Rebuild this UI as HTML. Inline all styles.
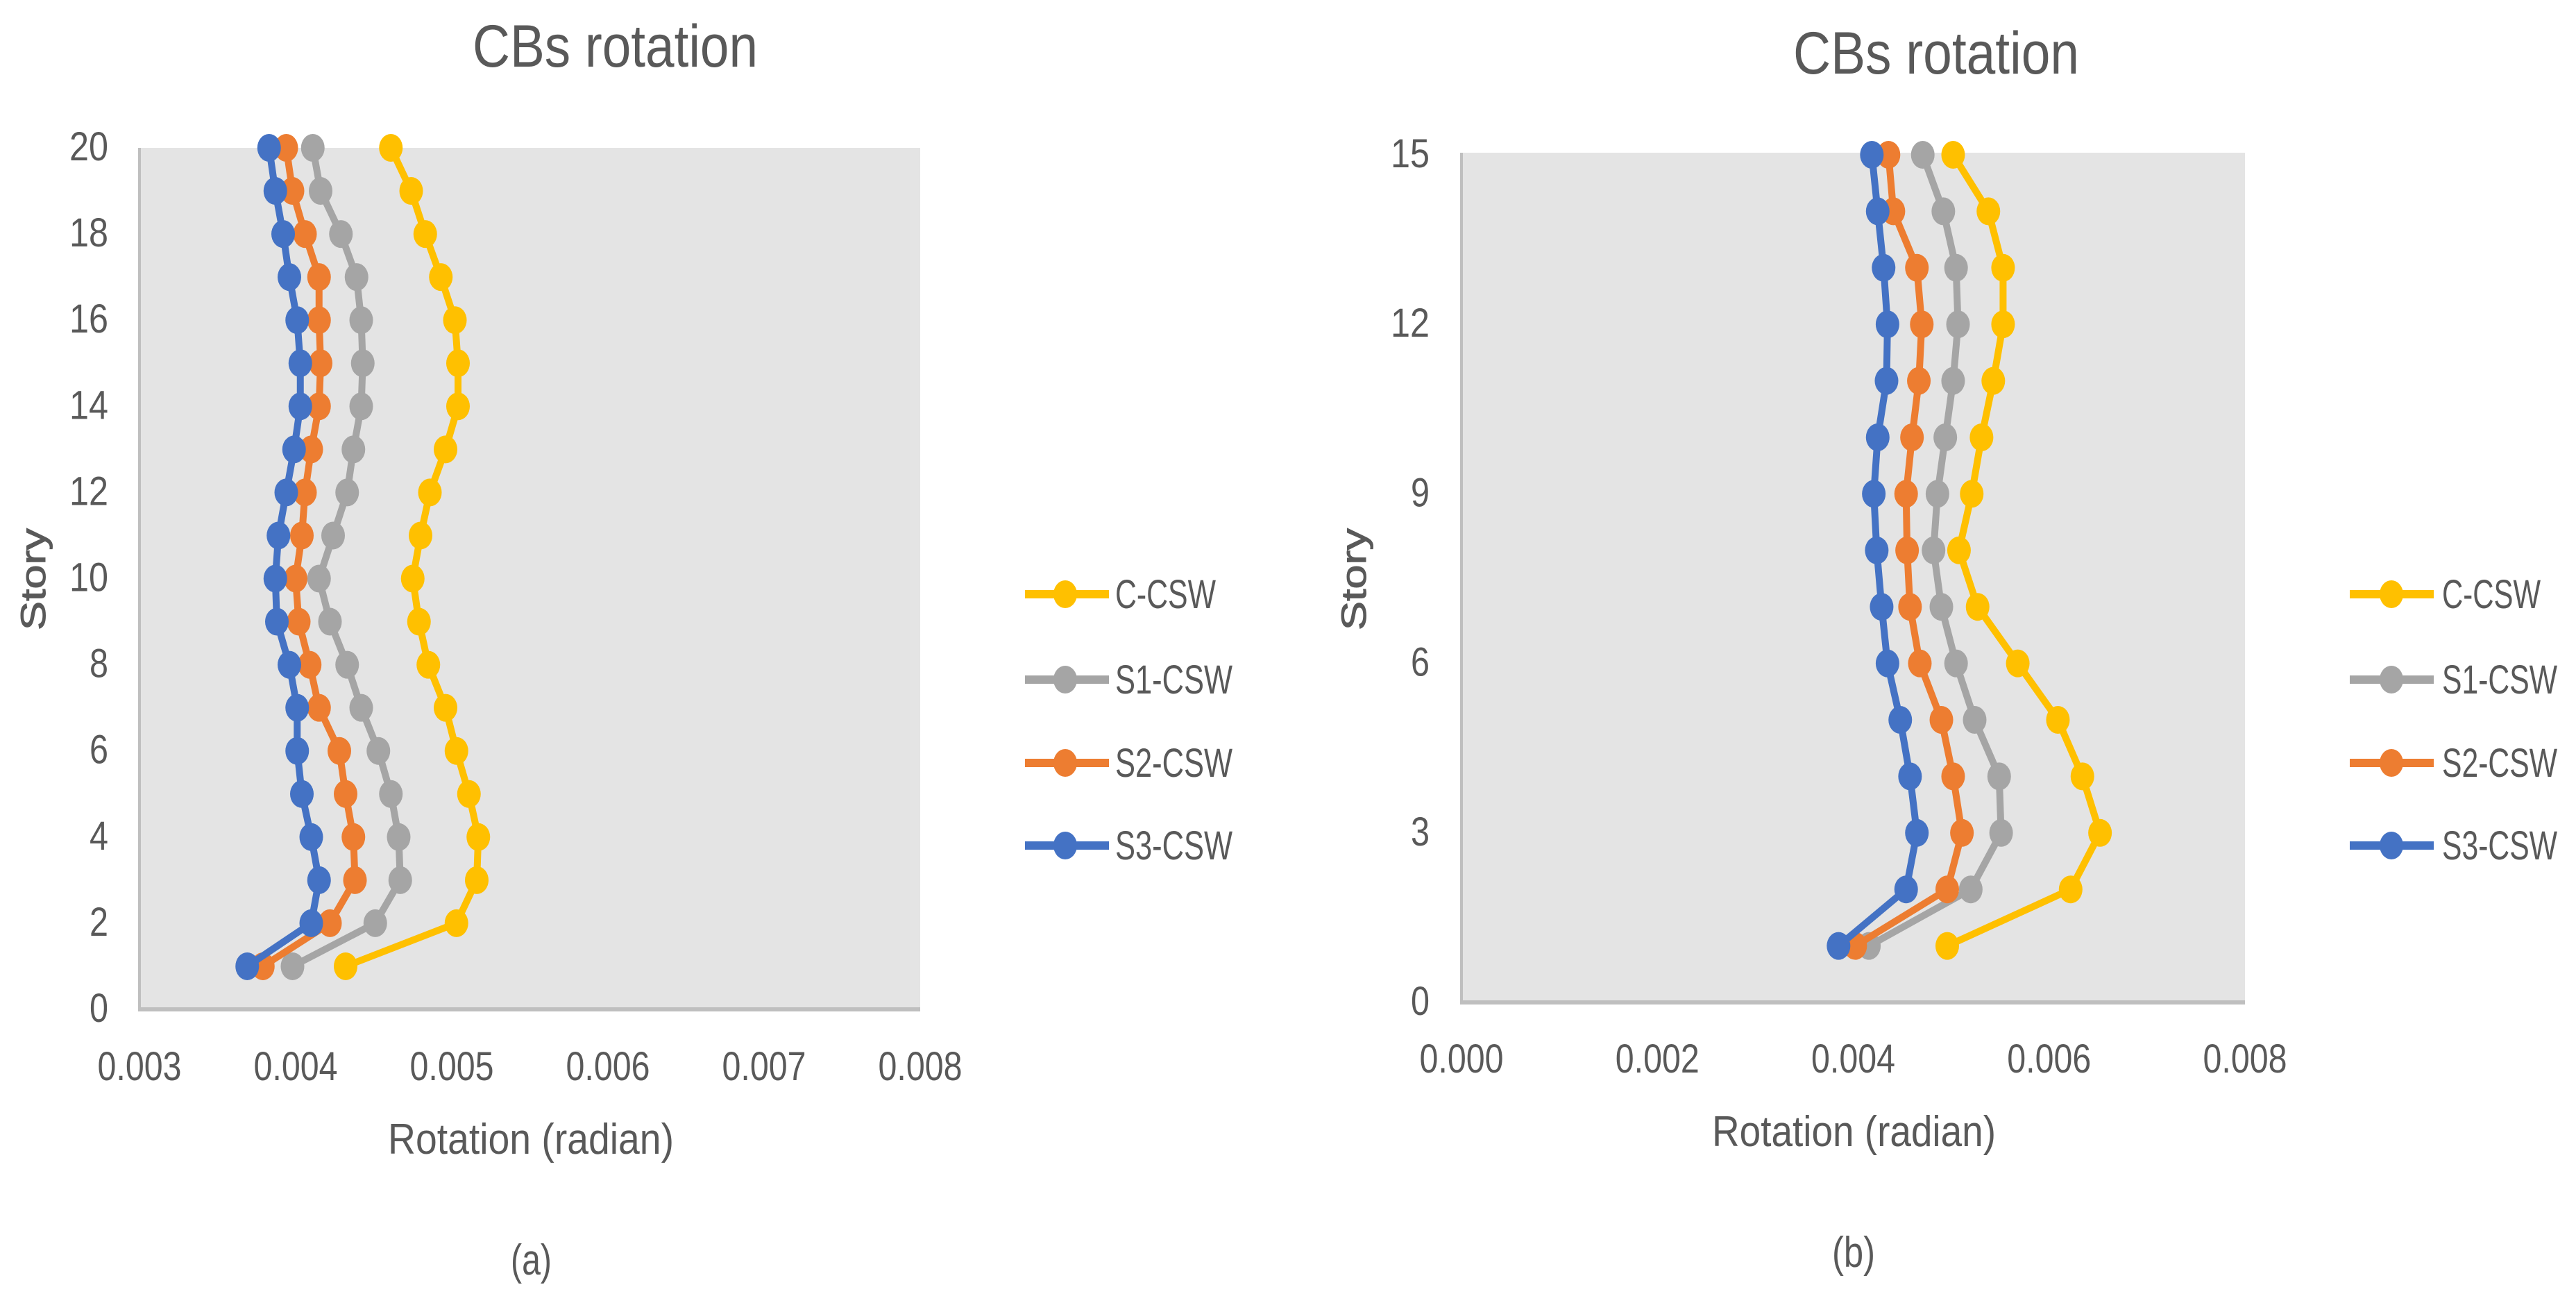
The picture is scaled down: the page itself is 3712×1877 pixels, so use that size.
<!DOCTYPE html>
<html lang="en">
<head>
<meta charset="utf-8">
<title>CBs rotation</title>
<style>
html,body{margin:0;padding:0;background:#fff;}
svg{display:block;}
text{font-family:"Liberation Sans",sans-serif;fill:#595959;}
</style>
</head>
<body>
<svg id="figure" xmlns="http://www.w3.org/2000/svg" width="3712" height="1877" viewBox="0 0 3712 1877">
  <rect width="3712" height="1877" fill="#fff"/>
  <g id="chart-a">
    <text x="681" y="96" font-size="86" textLength="411" lengthAdjust="spacingAndGlyphs">CBs rotation</text>
    <text x="559" y="1662" font-size="62" textLength="412" lengthAdjust="spacingAndGlyphs">Rotation (radian)</text>
    <text transform="translate(65,908) rotate(-90)" font-size="50" textLength="147" lengthAdjust="spacingAndGlyphs" stroke="#595959" stroke-width="1">Story</text>
    <text x="736" y="1836" font-size="62" textLength="59" lengthAdjust="spacingAndGlyphs">(a)</text>
  </g>
  <g id="chart-b">
    <text x="2584" y="106" font-size="86" textLength="412" lengthAdjust="spacingAndGlyphs">CBs rotation</text>
    <text x="2467" y="1651" font-size="62" textLength="409" lengthAdjust="spacingAndGlyphs">Rotation (radian)</text>
    <text transform="translate(1968,908) rotate(-90)" font-size="50" textLength="147" lengthAdjust="spacingAndGlyphs" stroke="#595959" stroke-width="1">Story</text>
    <text x="2640" y="1825" font-size="62" textLength="62" lengthAdjust="spacingAndGlyphs">(b)</text>
  </g>

  <g>
    <g>
      <line x1="1477" x2="1598" y1="856" y2="856" stroke="#FFC000" stroke-width="12"/>
      <ellipse cx="1535" cy="856" rx="17" ry="20" fill="#FFC000"/>
      <text x="1607" y="876" font-size="58" textLength="145" lengthAdjust="spacingAndGlyphs">C-CSW</text>
    </g>
    <g>
      <line x1="1477" x2="1598" y1="979" y2="979" stroke="#A5A5A5" stroke-width="12"/>
      <ellipse cx="1535" cy="979" rx="17" ry="20" fill="#A5A5A5"/>
      <text x="1607" y="999" font-size="58" textLength="169" lengthAdjust="spacingAndGlyphs">S1-CSW</text>
    </g>
    <g>
      <line x1="1477" x2="1598" y1="1099" y2="1099" stroke="#ED7D31" stroke-width="12"/>
      <ellipse cx="1535" cy="1099" rx="17" ry="20" fill="#ED7D31"/>
      <text x="1607" y="1119" font-size="58" textLength="169" lengthAdjust="spacingAndGlyphs">S2-CSW</text>
    </g>
    <g>
      <line x1="1477" x2="1598" y1="1218" y2="1218" stroke="#4472C4" stroke-width="12"/>
      <ellipse cx="1535" cy="1218" rx="17" ry="20" fill="#4472C4"/>
      <text x="1607" y="1238" font-size="58" textLength="169" lengthAdjust="spacingAndGlyphs">S3-CSW</text>
    </g>
  </g>

  <g>
    <g>
      <line x1="3386" x2="3507" y1="856" y2="856" stroke="#FFC000" stroke-width="12"/>
      <ellipse cx="3446" cy="856" rx="17" ry="20" fill="#FFC000"/>
      <text x="3519" y="876" font-size="58" textLength="142" lengthAdjust="spacingAndGlyphs">C-CSW</text>
    </g>
    <g>
      <line x1="3386" x2="3507" y1="979" y2="979" stroke="#A5A5A5" stroke-width="12"/>
      <ellipse cx="3446" cy="979" rx="17" ry="20" fill="#A5A5A5"/>
      <text x="3519" y="999" font-size="58" textLength="166" lengthAdjust="spacingAndGlyphs">S1-CSW</text>
    </g>
    <g>
      <line x1="3386" x2="3507" y1="1099" y2="1099" stroke="#ED7D31" stroke-width="12"/>
      <ellipse cx="3446" cy="1099" rx="17" ry="20" fill="#ED7D31"/>
      <text x="3519" y="1119" font-size="58" textLength="166" lengthAdjust="spacingAndGlyphs">S2-CSW</text>
    </g>
    <g>
      <line x1="3386" x2="3507" y1="1218" y2="1218" stroke="#4472C4" stroke-width="12"/>
      <ellipse cx="3446" cy="1218" rx="17" ry="20" fill="#4472C4"/>
      <text x="3519" y="1238" font-size="58" textLength="166" lengthAdjust="spacingAndGlyphs">S3-CSW</text>
    </g>
  </g>
</svg>

<script>
// Chart (a): stories listed from top (20) to bottom (1)
const storiesA = [20,19,18,17,16,15,14,13,12,11,10,9,8,7,6,5,4,3,2,1];
const cCswA  = [0.00461,0.00474,0.00483,0.00493,0.00502,0.00504,0.00504,0.00496,0.00486,0.00480,0.00475,0.00479,0.00485,0.00496,0.00503,0.00511,0.00517,0.00516,0.00503,0.00432];
const s1CswA = [0.00411,0.00416,0.00429,0.00439,0.00442,0.00443,0.00442,0.00437,0.00433,0.00424,0.00415,0.00422,0.00433,0.00442,0.00453,0.00461,0.00466,0.00467,0.00451,0.00398];
const s2CswA = [0.00394,0.00398,0.00406,0.00415,0.00415,0.00416,0.00415,0.00410,0.00406,0.00404,0.00400,0.00402,0.00409,0.00415,0.00428,0.00432,0.00437,0.00438,0.00422,0.00379];
const s3CswA = [0.00383,0.00387,0.00392,0.00396,0.00401,0.00403,0.00403,0.00399,0.00394,0.00389,0.00387,0.00388,0.00396,0.00401,0.00401,0.00404,0.00410,0.00415,0.00410,0.00369];
const xTicksA = ["0.003","0.004","0.005","0.006","0.007","0.008"];
const yTicksA = [0,2,4,6,8,10,12,14,16,18,20];

// Chart (b): stories listed from top (15) to bottom (1)
const storiesB = [15,14,13,12,11,10,9,8,7,6,5,4,3,2,1];
const cCswB  = [0.00502,0.00538,0.00553,0.00553,0.00543,0.00531,0.00521,0.00508,0.00527,0.00568,0.00609,0.00634,0.00652,0.00622,0.00496];
const s1CswB = [0.00471,0.00492,0.00505,0.00507,0.00502,0.00494,0.00486,0.00482,0.00490,0.00505,0.00524,0.00549,0.00551,0.00520,0.00416];
const s2CswB = [0.00436,0.00441,0.00465,0.00470,0.00467,0.00460,0.00454,0.00455,0.00458,0.00468,0.00490,0.00502,0.00511,0.00496,0.00402];
const s3CswB = [0.00419,0.00425,0.00431,0.00435,0.00434,0.00425,0.00421,0.00424,0.00429,0.00435,0.00448,0.00458,0.00465,0.00454,0.00385];
const xTicksB = ["0.000","0.002","0.004","0.006","0.008"];
const yTicksB = [0,3,6,9,12,15];

const SVG_NS = "http://www.w3.org/2000/svg";
function make(parent, tag, attrs) {
  const el = document.createElementNS(SVG_NS, tag);
  for (const k in attrs) el.setAttribute(k, attrs[k]);
  parent.appendChild(el);
  return el;
}

function drawChart(cfg) {
  const root = document.getElementById(cfg.id);
  const xScale = v => cfg.left + (v - cfg.xMin) / (cfg.xMax - cfg.xMin) * (cfg.right - cfg.left);
  const yScale = s => cfg.bottom - (s - cfg.yMin) / (cfg.yMax - cfg.yMin) * (cfg.bottom - cfg.yTopValue);

  const plot = make(root, "rect", {x: cfg.left, y: cfg.top, width: cfg.right - cfg.left, height: cfg.bottom - cfg.top, fill: "#E4E4E4"});
  
  

  const yAxis = make(root, "line", {x1: cfg.left, x2: cfg.left, y1: cfg.top, y2: cfg.bottom, stroke: "#BFBFBF", "stroke-width": 4});
  
  

  const xAxis = make(root, "line", {x1: cfg.left - 2, x2: cfg.right, y1: cfg.bottom, y2: cfg.bottom, stroke: "#BFBFBF", "stroke-width": 6});
  
  

  cfg.xTicks.forEach(t => {
    const label = make(root, "text", {x: xScale(parseFloat(t)), y: cfg.xLabelY, "font-size": 58, "text-anchor": "middle", textLength: 121, lengthAdjust: "spacingAndGlyphs"});
    
    
    label.textContent = t;
  });

  cfg.yTicks.forEach(t => {
    const str = String(t);
    const w = str.length === 1 ? 27 : 56;
    const label = make(root, "text", {x: cfg.yLabelRight - w, y: yScale(t) + 18, "font-size": 58, textLength: w, lengthAdjust: "spacingAndGlyphs"});
    
    
    label.textContent = str;
  });

  cfg.series.forEach(s => {
    const g = make(root, "g", {});
    
    
    const pts = s.values.map((v, i) => xScale(v) + "," + yScale(cfg.stories[i])).join(" ");
    const line = make(g, "polyline", {points: pts, fill: "none", stroke: s.color, "stroke-width": 10, "stroke-linejoin": "round"});
    
    
    s.values.forEach((v, i) => {
      const dot = make(g, "ellipse", {cx: xScale(v), cy: yScale(cfg.stories[i]), rx: 17, ry: 20, fill: s.color});
      
      
    });
  });
}

drawChart({
  id: "chart-a", left: 201, right: 1326, top: 213, bottom: 1454, yTopValue: 213,
  xMin: 0.003, xMax: 0.008, yMin: 0, yMax: 20, xLabelY: 1556, yLabelRight: 156,
  stories: storiesA, xTicks: xTicksA, yTicks: yTicksA,
  series: [
    {name: "c-csw", color: "#FFC000", values: cCswA},
    {name: "s1-csw", color: "#A5A5A5", values: s1CswA},
    {name: "s2-csw", color: "#ED7D31", values: s2CswA},
    {name: "s3-csw", color: "#4472C4", values: s3CswA}
  ]
});

drawChart({
  id: "chart-b", left: 2106, right: 3235, top: 220, bottom: 1444, yTopValue: 223,
  xMin: 0, xMax: 0.008, yMin: 0, yMax: 15, xLabelY: 1545, yLabelRight: 2060,
  stories: storiesB, xTicks: xTicksB, yTicks: yTicksB,
  series: [
    {name: "c-csw", color: "#FFC000", values: cCswB},
    {name: "s1-csw", color: "#A5A5A5", values: s1CswB},
    {name: "s2-csw", color: "#ED7D31", values: s2CswB},
    {name: "s3-csw", color: "#4472C4", values: s3CswB}
  ]
});
</script>
</body>
</html>
